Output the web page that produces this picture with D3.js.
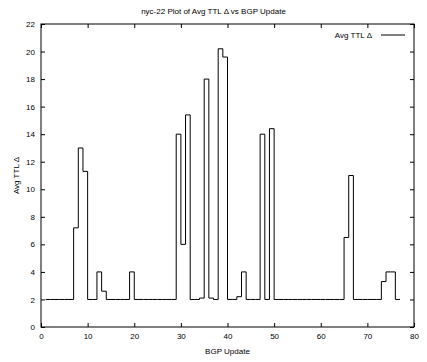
<!DOCTYPE html>
<html>
<head>
<meta charset="utf-8">
<script src="https://cdn.jsdelivr.net/npm/d3@7"></script>
<style>
  html, body { margin: 0; padding: 0; background: #fff; overflow: hidden; }
  svg { display: block; }
</style>
</head>
<body>
<div id="chart"></div>
<script>
// BGP update index and average TTL delta (gnuplot "steps")
const updates = [
   1,  2,  3,  4,  5,  6,  7,  8,  9, 10, 11, 12, 13, 14, 15, 16, 17, 18, 19, 20,
  21, 22, 23, 24, 25, 26, 27, 28, 29, 30, 31, 32, 33, 34, 35, 36, 37, 38, 39, 40,
  41, 42, 43, 44, 45, 46, 47, 48, 49, 50, 51, 52, 53, 54, 55, 56, 57, 58, 59, 60,
  61, 62, 63, 64, 65, 66, 67, 68, 69, 70, 71, 72, 73, 74, 75, 76, 77
];
const avgTtlDelta = [
  2, 2, 2, 2, 2, 2, 7.2, 13, 11.3, 2, 2, 4, 2.6, 2, 2, 2, 2, 2, 4, 2,
  2, 2, 2, 2, 2, 2, 2, 2, 14, 6, 15.4, 2, 2, 2.1, 18, 2.1, 2, 20.2, 19.6, 2,
  2, 2.2, 4, 2, 2, 2, 14, 2, 14.4, 2, 2, 2, 2, 2, 2, 2, 2, 2, 2, 2,
  2, 2, 2, 2, 6.5, 11, 2, 2, 2, 2, 2, 2, 3.3, 4, 4, 2, 2
];
const xTicks = [0, 10, 20, 30, 40, 50, 60, 70, 80];
const yTicks = [0, 2, 4, 6, 8, 10, 12, 14, 16, 18, 20, 22];

const data = updates.map((u, i) => ({ update: u, ttl: avgTtlDelta[i] }));

const width = 427, height = 362;
const margin = { top: 24, right: 13, bottom: 35, left: 41 };
const innerWidth = width - margin.left - margin.right;
const innerHeight = height - margin.top - margin.bottom;
const font = "Liberation Sans, Arial, sans-serif";

const svg = d3.select("#chart").append("svg")
  .attr("width", width)
  .attr("height", height)
  .attr("font-family", font)
  .attr("font-size", 8);

const g = svg.append("g")
  .attr("transform", `translate(${margin.left}, ${margin.top})`);

const xScale = d3.scaleLinear().domain([0, 80]).range([0, innerWidth]);
const yScale = d3.scaleLinear().domain([0, 22]).range([innerHeight, 0]);

// gnuplot style: inward ticks on all four sides
const tickLen = 4;
const axisStyle = sel => {
  sel.attr("font-family", font).attr("font-size", 8);
  sel.select(".domain").remove();
  sel.selectAll(".tick line").attr("stroke", "#000");
  sel.selectAll(".tick text").attr("fill", "#000");
};
const mirrorStyle = sel => {
  sel.select(".domain").remove();
  sel.selectAll(".tick line").attr("stroke", "#000");
  sel.selectAll(".tick text").remove();
};

g.append("g")
  .attr("transform", `translate(0, ${innerHeight})`)
  .call(d3.axisBottom(xScale).tickValues(xTicks).tickSizeInner(-tickLen).tickPadding(6))
  .call(axisStyle);

g.append("g")
  .call(d3.axisTop(xScale).tickValues(xTicks).tickSizeInner(-tickLen))
  .call(mirrorStyle);

g.append("g")
  .call(d3.axisLeft(yScale).tickValues(yTicks).tickSizeInner(-tickLen).tickPadding(6))
  .call(axisStyle);

g.append("g")
  .attr("transform", `translate(${innerWidth}, 0)`)
  .call(d3.axisRight(yScale).tickValues(yTicks).tickSizeInner(-tickLen))
  .call(mirrorStyle);

// border
g.append("rect")
  .attr("width", innerWidth)
  .attr("height", innerHeight)
  .attr("fill", "none")
  .attr("stroke", "#000")
  .attr("stroke-width", 1);

// step line
const line = d3.line()
  .x(d => xScale(d.update))
  .y(d => yScale(d.ttl))
  .curve(d3.curveStepAfter);

g.append("path")
  .datum(data)
  .attr("fill", "none")
  .attr("stroke", "#000")
  .attr("stroke-width", 1)
  .attr("d", line);

// title and axis labels
svg.append("text")
  .attr("x", width / 2)
  .attr("y", 14)
  .attr("text-anchor", "middle")
  .text("nyc-22 Plot of Avg TTL Δ vs BGP Update");

svg.append("text")
  .attr("x", margin.left + innerWidth / 2)
  .attr("y", 354)
  .attr("text-anchor", "middle")
  .text("BGP Update");

svg.append("text")
  .attr("transform", "rotate(-90)")
  .attr("x", -(margin.top + innerHeight / 2))
  .attr("y", 19)
  .attr("text-anchor", "middle")
  .text("Avg TTL Δ");

// legend
const legend = g.append("g");
legend.append("text")
  .attr("x", 331)
  .attr("y", 14)
  .attr("text-anchor", "end")
  .text("Avg TTL Δ");
legend.append("line")
  .attr("x1", 340).attr("x2", 364)
  .attr("y1", 11).attr("y2", 11)
  .attr("stroke", "#000");
</script>
</body>
</html>
